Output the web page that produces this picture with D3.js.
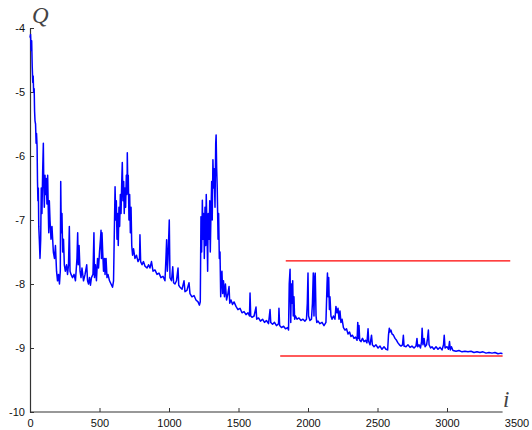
<html>
  <head>
    <meta charset="utf-8">
    <title>Q vs i</title>
    <script src="https://cdn.jsdelivr.net/npm/d3@7/dist/d3.min.js"></script>
    <style>
      body{margin:0;background:#fff;}
      .tick text{font-family:"Liberation Sans",Arial,sans-serif;font-size:11px;fill:#111;}
    </style>
  </head>
<body>
  <script>
    // values
    var iters = [0,4,8,12,16,20,23,26,30,33,36,40,44,47,51,54,57,60,63,67,72,77,81,86,91,96,99,103,108,113,117,122,127,132,135,139,144,151,158,168,176,183,191,198,205,212,218,221,225,230,235,241,247,254,263,270,277,283,288,295,306,317,327,338,343,347,353,360,367,374,385,396,408,414,421,428,435,442,453,460,464,471,478,486,493,500,507,511,514,518,523,529,536,540,547,554,561,572,583,594,601,604,612,617,621,626,631,635,640,645,650,655,660,664,669,674,678,683,688,693,698,700,704,707,712,717,722,727,732,738,745,755,766,777,788,791,796,806,816,827,842,853,863,874,885,899,914,928,942,957,971,978,983,988,993,1002,1007,1018,1027,1033,1043,1054,1065,1070,1079,1094,1108,1115,1129,1144,1151,1165,1180,1194,1209,1219,1225,1230,1235,1240,1245,1250,1254,1259,1264,1268,1273,1278,1282,1288,1293,1297,1302,1307,1311,1316,1321,1325,1331,1336,1339,1343,1347,1353,1357,1362,1367,1372,1376,1381,1386,1392,1399,1406,1414,1424,1432,1437,1446,1457,1468,1482,1496,1511,1525,1540,1554,1568,1579,1583,1588,1597,1612,1626,1631,1644,1658,1673,1687,1701,1716,1727,1732,1745,1759,1773,1788,1791,1796,1809,1824,1838,1853,1860,1865,1871,1876,1880,1885,1890,1894,1899,1904,1910,1921,1935,1950,1964,1978,1989,1995,2000,2004,2014,2025,2032,2038,2043,2048,2052,2058,2063,2072,2086,2101,2115,2129,2137,2140,2144,2149,2154,2158,2165,2173,2183,2194,2201,2209,2216,2223,2230,2237,2245,2255,2266,2277,2288,2299,2309,2320,2331,2342,2353,2358,2363,2367,2372,2381,2392,2403,2414,2424,2432,2437,2446,2457,2463,2475,2489,2504,2518,2532,2547,2561,2573,2579,2585,2590,2597,2604,2615,2626,2637,2647,2658,2669,2680,2686,2691,2705,2719,2734,2748,2763,2777,2784,2789,2799,2809,2817,2821,2827,2835,2842,2853,2860,2866,2871,2882,2892,2906,2921,2935,2950,2964,2975,2980,2986,3000,3011,3018,3024,3032,3043,3065,3086,3108,3129,3151,3173,3194,3216,3237,3259,3281,3302,3324,3345,3367,3388,3399];
    var qVals = [-4.15,-4.1,-4.35,-4.2,-4.6,-4.85,-4.75,-5.0,-4.95,-5.3,-5.45,-5.5,-5.8,-5.65,-5.85,-6.4,-6.7,-6.5,-7.1,-7.3,-7.6,-7.3,-6.5,-6.9,-6.25,-5.8,-6.4,-6.8,-6.3,-6.6,-6.35,-6.75,-6.3,-6.9,-7.2,-6.7,-7.0,-7.3,-7.1,-7.5,-7.6,-7.4,-7.8,-7.95,-7.85,-8.0,-7.8,-6.4,-7.2,-6.9,-7.5,-7.3,-7.7,-7.8,-7.7,-7.85,-7.7,-7.1,-7.8,-7.85,-7.9,-7.85,-7.95,-7.6,-7.2,-7.7,-7.4,-7.8,-7.9,-7.75,-7.95,-7.85,-7.7,-7.95,-8.0,-7.9,-8.02,-7.9,-7.85,-7.2,-7.9,-7.7,-7.95,-7.6,-7.75,-7.5,-7.3,-7.16,-7.6,-7.2,-7.5,-7.8,-7.6,-7.85,-7.6,-7.9,-7.85,-7.95,-8.0,-8.05,-7.95,-7.55,-6.48,-7.0,-6.7,-7.3,-6.9,-7.4,-6.8,-7.1,-6.6,-6.9,-6.4,-6.1,-6.7,-6.4,-6.9,-6.5,-6.8,-6.3,-6.6,-5.95,-6.5,-6.3,-7.0,-6.6,-7.2,-6.8,-7.4,-7.55,-7.45,-7.6,-7.55,-7.65,-7.6,-7.23,-7.65,-7.7,-7.65,-7.72,-7.75,-7.7,-7.75,-7.65,-7.8,-7.78,-7.85,-7.83,-7.9,-7.88,-7.95,-7.6,-7.31,-7.8,-7.6,-7.0,-7.9,-7.95,-7.73,-7.98,-8.0,-7.95,-7.75,-8.02,-8.05,-8.08,-7.95,-8.12,-8.1,-7.98,-8.15,-8.2,-8.18,-8.25,-8.28,-8.33,-8.28,-6.95,-7.5,-6.69,-7.3,-6.9,-7.6,-6.8,-7.4,-6.6,-7.1,-7.8,-6.9,-7.3,-6.7,-7.5,-6.9,-6.4,-7.0,-6.06,-6.5,-6.2,-6.8,-5.8,-5.67,-6.2,-6.5,-7.3,-6.9,-7.6,-7.5,-8.2,-7.9,-7.8,-8.15,-7.95,-8.2,-8.0,-8.25,-8.15,-8.04,-8.3,-8.25,-8.32,-8.28,-8.35,-8.4,-8.38,-8.45,-8.43,-8.48,-8.45,-8.5,-8.14,-8.5,-8.52,-8.5,-8.36,-8.55,-8.53,-8.58,-8.55,-8.6,-8.57,-8.62,-8.4,-8.6,-8.63,-8.6,-8.65,-8.62,-8.38,-8.65,-8.68,-8.66,-8.7,-8.68,-8.72,-8.0,-7.77,-8.6,-8.0,-8.3,-7.95,-8.5,-8.2,-8.55,-8.5,-8.55,-8.53,-8.57,-8.55,-8.58,-8.55,-8.3,-7.83,-8.5,-8.57,-8.55,-8.3,-7.83,-8.5,-7.9,-7.83,-8.5,-8.6,-8.58,-8.62,-8.6,-8.65,-8.6,-8.0,-7.83,-8.2,-7.9,-8.4,-8.2,-8.5,-8.55,-8.5,-8.55,-8.35,-8.45,-8.38,-8.55,-8.42,-8.6,-8.55,-8.68,-8.72,-8.7,-8.78,-8.75,-8.82,-8.8,-8.85,-8.83,-8.88,-8.6,-8.85,-8.65,-8.88,-8.9,-8.85,-8.9,-8.88,-8.92,-8.7,-8.9,-8.95,-8.8,-8.95,-8.98,-8.95,-9.0,-8.97,-9.02,-8.98,-9.02,-9.03,-8.8,-8.69,-8.75,-8.72,-8.78,-8.8,-8.85,-8.88,-8.92,-8.95,-8.97,-8.95,-8.8,-8.97,-8.98,-8.95,-8.99,-8.97,-9.0,-8.97,-8.85,-8.98,-8.95,-9.0,-8.9,-8.69,-8.95,-8.85,-8.98,-8.95,-8.85,-8.72,-8.95,-9.0,-8.98,-9.02,-8.98,-9.02,-8.99,-9.03,-8.95,-8.8,-9.0,-8.98,-9.02,-8.9,-9.03,-8.98,-9.04,-9.05,-9.04,-9.06,-9.05,-9.06,-9.05,-9.07,-9.06,-9.07,-9.06,-9.08,-9.07,-9.08,-9.07,-9.09,-9.08,-9.09];

    // the two red reference lines: [start i, end i, Q]
    var upperLine = [1840, 3455, -7.64];
    var lowerLine = [1800, 3400, -9.125];

    var xTicks = [0,500,1000,1500,2000,2500,3000,3500];
    var yTicks = [-10,-9,-8,-7,-6,-5,-4];
    var xAxisEnd = 3400;

    var width = 532, height = 430;
    var svg = d3.select("body").append("svg")
                .attr("width", width)
                .attr("height", height);

    var x = d3.scaleLinear().domain([0,3500]).range([30,516.5]);
    var y = d3.scaleLinear().domain([-10,-4]).range([412,28]);
    var plain = function(d){ return String(d); };   // "-4", "3500" (no commas, plain hyphen)

    // x axis, ticks point inward
    var gx = svg.append("g")
                .attr("transform","translate(0,"+y(-10)+")")
                .call(d3.axisBottom(x).tickValues(xTicks).tickFormat(plain).tickSize(-4).tickPadding(7));
    gx.select(".domain").remove();
    gx.selectAll(".tick line").attr("stroke","#333")
      .attr("opacity",function(d){ return d>xAxisEnd ? 0 : 1; });
    svg.append("line")
       .attr("x1",x(0)).attr("x2",x(xAxisEnd))
       .attr("y1",y(-10)).attr("y2",y(-10))
       .attr("stroke","#333").attr("stroke-width",1.2);

    // y axis
    var gy = svg.append("g")
                .attr("transform","translate("+x(0)+",0)")
                .call(d3.axisLeft(y).tickValues(yTicks).tickFormat(plain).tickSize(-4).tickSizeOuter(0).tickPadding(5));
    gy.select(".domain").attr("stroke","#333").attr("stroke-width",1.2);
    gy.selectAll(".tick line").attr("stroke","#333");

    // red levels
    svg.append("line")
       .attr("x1",x(upperLine[0])).attr("x2",x(upperLine[1]))
       .attr("y1",y(upperLine[2])).attr("y2",y(upperLine[2]))
       .attr("stroke","#f00").attr("stroke-width",1.2);
    svg.append("line")
       .attr("x1",x(lowerLine[0])).attr("x2",x(lowerLine[1]))
       .attr("y1",y(lowerLine[2])).attr("y2",y(lowerLine[2]))
       .attr("stroke","#ff5a5a").attr("stroke-width",2);

    // the Q series
    var line = d3.line()
                 .x(function(d,k){ return x(iters[k]); })
                 .y(function(d){ return y(d); });
    svg.append("path")
       .datum(qVals)
       .attr("d",line)
       .attr("fill","none")
       .attr("stroke","#0000ff")
       .attr("stroke-width",1.5)
       .attr("stroke-linejoin","round");

    // axis names
    svg.append("text").attr("x",32).attr("y",23)
       .style("font-family","'Liberation Serif','Times New Roman',serif")
       .style("font-style","italic").style("font-size","23px").style("fill","#444")
       .text("Q");
    svg.append("text").attr("x",503).attr("y",407)
       .style("font-family","'Liberation Serif','Times New Roman',serif")
       .style("font-style","italic").style("font-size","23px").style("fill","#444")
       .text("i");
  </script>
</body>
</html>
